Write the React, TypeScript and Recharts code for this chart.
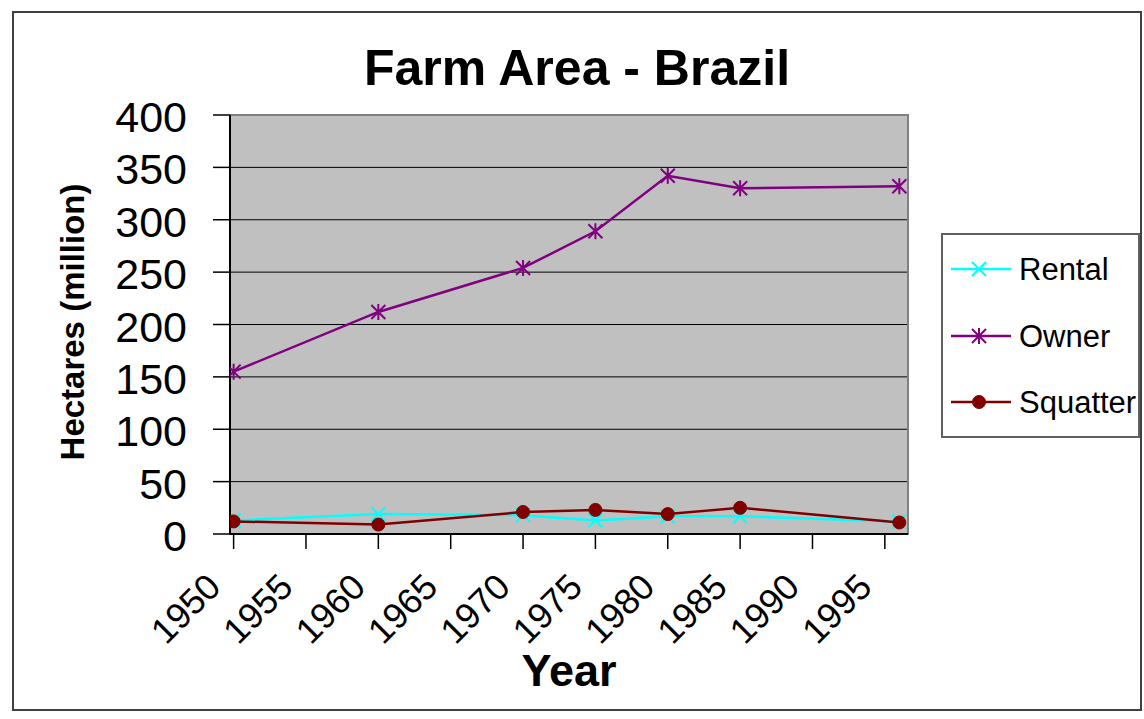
import React from 'react';
import {
  LineChart,
  Line,
  XAxis,
  YAxis,
  CartesianGrid,
  ReferenceArea,
  Legend,
} from 'recharts';

// census years and areas (million hectares)
const years = [1950, 1960, 1970, 1975, 1980, 1985, 1996];
const rental = [13, 19, 18, 13, 17, 17, 12];
const owner = [155, 212, 254, 289, 342, 330, 332];
const squatter = [12, 9, 21, 23, 19, 25, 11];

const xTicks = [1950, 1955, 1960, 1965, 1970, 1975, 1980, 1985, 1990, 1995];
const yTicks = [0, 50, 100, 150, 200, 250, 300, 350, 400];

const FONT = '"Liberation Sans", Arial, sans-serif';
const X_DOMAIN: [number, number] = [1949.75, 1996.6];

const data = years.map((year, i) => ({
  year,
  Rental: rental[i],
  Owner: owner[i],
  Squatter: squatter[i],
}));

type Shape = 'x' | 'star' | 'dot';

const series: { key: string; color: string; shape: Shape }[] = [
  { key: 'Rental', color: '#00ffff', shape: 'x' },
  { key: 'Owner', color: '#800080', shape: 'star' },
  { key: 'Squatter', color: '#800000', shape: 'dot' },
];

function Marker({ cx, cy, color, shape }: { cx: number; cy: number; color: string; shape: Shape }) {
  if (shape === 'dot') {
    return <circle cx={cx} cy={cy} r={6.5} fill={color} stroke={color} />;
  }
  const s = 7;
  let d = `M${cx - s},${cy - s}L${cx + s},${cy + s}M${cx - s},${cy + s}L${cx + s},${cy - s}`;
  if (shape === 'star') d += `M${cx},${cy - s - 1}L${cx},${cy + s + 1}`;
  return <path d={d} stroke={color} strokeWidth={2} fill="none" />;
}

function makeDot(color: string, shape: Shape) {
  return (props: any) => {
    const { cx, cy, index } = props;
    if (cx == null || cy == null) return <g key={index} />;
    return (
      <g key={index}>
        <Marker cx={cx} cy={cy} color={color} shape={shape} />
      </g>
    );
  };
}

function XTick({ x, y, payload }: any) {
  const ax = x - 11;
  const ay = y + 40;
  return (
    <text
      x={ax}
      y={ay}
      transform={`rotate(-45, ${ax}, ${ay})`}
      textAnchor="end"
      fontSize={36}
      fontFamily={FONT}
      fill="#000"
    >
      {payload.value}
    </text>
  );
}

function YTick({ x, y, payload }: any) {
  return (
    <text x={x - 26} y={y + 17} textAnchor="end" fontSize={43} fontFamily={FONT} fill="#000">
      {payload.value}
    </text>
  );
}

function LegendBox() {
  const rows = [269, 336, 402];
  return (
    <div
      style={{
        width: 195,
        height: 201,
        border: '2px solid #606060',
        background: '#fff',
        boxSizing: 'content-box',
      }}
    >
      <svg width={195} height={201}>
        {series.map((s, i) => {
          const cy = rows[i] - 235;
          return (
            <g key={s.key}>
              <line x1={8} x2={68} y1={cy} y2={cy} stroke={s.color} strokeWidth={2.5} />
              <Marker cx={36} cy={cy} color={s.color} shape={s.shape} />
              <text x={76} y={cy + 11} fontSize={31} fontFamily={FONT} fill="#000">
                {s.key}
              </text>
            </g>
          );
        })}
      </svg>
    </div>
  );
}

export default function App() {
  return (
    <div style={{ position: 'absolute', left: 0, top: 0, width: 1144, height: 719, background: '#fff' }}>
      <svg width={1144} height={719} style={{ position: 'absolute', left: 0, top: 0 }}>
        <rect x={13} y={12} width={1128} height={698} fill="#fff" stroke="#404040" strokeWidth={2} />
        <text x={577} y={85} textAnchor="middle" fontSize={50} fontWeight="bold" fontFamily={FONT} fill="#000">
          Farm Area - Brazil
        </text>
        <text x={569} y={686} textAnchor="middle" fontSize={45} fontWeight="bold" fontFamily={FONT} fill="#000">
          Year
        </text>
        <text
          x={84}
          y={322}
          transform="rotate(-90, 84, 322)"
          textAnchor="middle"
          fontSize={33}
          fontWeight="bold"
          fontFamily={FONT}
          fill="#000"
        >
          Hectares (million)
        </text>
      </svg>
      <div style={{ position: 'absolute', left: 0, top: 0 }}>
        <LineChart
          width={1144}
          height={719}
          data={data}
          margin={{ top: 115, right: 236, bottom: 85, left: 0 }}
        >
          <CartesianGrid vertical={false} stroke="#000" fill="#c0c0c0" fillOpacity={1} />
          <ReferenceArea
            x1={X_DOMAIN[0]}
            x2={X_DOMAIN[1]}
            y1={0}
            y2={400}
            fill="none"
            stroke="#808080"
            strokeWidth={2}
          />
          <XAxis
            dataKey="year"
            type="number"
            domain={X_DOMAIN}
            ticks={xTicks}
            interval={0}
            allowDataOverflow
            height={100}
            tickSize={15}
            tickMargin={0}
            tick={<XTick />}
            axisLine={{ stroke: '#000', strokeWidth: 2 }}
            tickLine={{ stroke: '#000', strokeWidth: 1.5 }}
          />
          <YAxis
            type="number"
            domain={[0, 400]}
            ticks={yTicks}
            interval={0}
            width={230}
            tickSize={17}
            tickMargin={0}
            tick={<YTick />}
            axisLine={{ stroke: '#000', strokeWidth: 2 }}
            tickLine={{ stroke: '#000', strokeWidth: 1.5 }}
          />
          <Legend
            layout="vertical"
            align="center"
            verticalAlign="middle"
            wrapperStyle={{ position: 'absolute', left: 941, top: 233, width: 'auto' }}
            content={() => <LegendBox />}
          />
          {series.map((s) => (
            <Line
              key={s.key}
              type="linear"
              dataKey={s.key}
              stroke={s.color}
              strokeWidth={2.5}
              dot={makeDot(s.color, s.shape)}
              activeDot={false}
              isAnimationActive={false}
            />
          ))}
        </LineChart>
      </div>
    </div>
  );
}
